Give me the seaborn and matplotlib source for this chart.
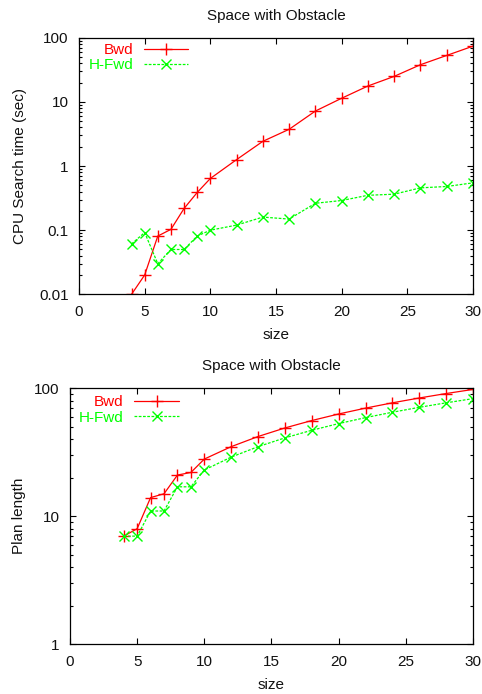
import matplotlib
matplotlib.use("Agg")
import matplotlib.pyplot as plt
import seaborn as sns
import numpy as np
from matplotlib.ticker import LogLocator, NullFormatter, FixedLocator

sizes = [4, 5, 6, 7, 8, 9, 10, 12, 14, 16, 18, 20, 22, 24, 26, 28, 30]

cpu_bwd = [0.01, 0.02, 0.081, 0.103, 0.218, 0.387, 0.64, 1.26, 2.43, 3.74,
           7.2, 11.4, 17.7, 25.0, 38.0, 53.0, 74.0]
cpu_hfwd = [0.061, 0.092, 0.030, 0.050, 0.050, 0.081, 0.10, 0.12, 0.16, 0.149,
            0.263, 0.29, 0.35, 0.364, 0.457, 0.48, 0.547]

plan_bwd = [7, 8, 14, 15, 21, 22, 28, 35, 42, 49, 56, 63, 70, 77, 84, 91, 98]
plan_hfwd = [7, 7, 11, 11, 17, 17, 23, 29, 35, 41, 47, 53, 59, 65, 71, 77, 83]

title = "Space with Obstacle"
xlabel = "size"
ylabel_top = "CPU Search time (sec)"
ylabel_bot = "Plan length"
xticks = [0, 5, 10, 15, 20, 25, 30]
yticks_top = [0.01, 0.1, 1, 10, 100]
yticklabels_top = ["0.01", "0.1", "1", "10", "100"]
yticks_bot = [1, 10, 100]
yticklabels_bot = ["1", "10", "100"]

sns.set_style("ticks")
plt.rcParams["font.family"] = ["Liberation Sans", "DejaVu Sans"]
FS = 11

fig = plt.figure(figsize=(4.82, 6.94), dpi=100)
ax1 = fig.add_axes([0.1639, 0.5759, 0.8174, 0.3697])
ax2 = fig.add_axes([0.1452, 0.0716, 0.8361, 0.3689])

RED = "#ff0000"
GREEN = "#00ff00"


def draw(ax, yb, yh, yticks, yticklabels, ylim, ylabel, ylabel_x, leg_x, leg_y):
    sns.lineplot(x=sizes, y=yb, ax=ax, color=RED, marker="+", markersize=9,
                 markeredgewidth=1.0, markeredgecolor=RED, linewidth=0.9,
                 label="Bwd")
    sns.lineplot(x=sizes, y=yh, ax=ax, color=GREEN, marker="x", markersize=7,
                 markeredgewidth=1.0, markeredgecolor=GREEN, linewidth=0.9,
                 label="H-Fwd", linestyle=(0, (2.2, 1.2)))
    ax.set_yscale("log")
    ax.set_xlim(0, 30)
    ax.set_ylim(*ylim)
    ax.xaxis.set_major_locator(FixedLocator(xticks))
    ax.set_xticklabels([str(t) for t in xticks])
    ax.yaxis.set_major_locator(FixedLocator(yticks))
    ax.set_yticklabels(yticklabels)
    ax.yaxis.set_minor_locator(LogLocator(base=10, subs=np.arange(2, 10)))
    ax.yaxis.set_minor_formatter(NullFormatter())
    ax.tick_params(which="both", direction="in", top=True, right=True,
                   color="black", width=0.8, labelsize=FS, labelcolor="#111111")
    ax.tick_params(which="major", length=4.5)
    ax.tick_params(which="minor", length=2.5)
    ax.tick_params(axis="y", pad=7.5)
    ax.tick_params(axis="x", pad=8)
    for s in ax.spines.values():
        s.set_visible(True)
        s.set_linewidth(0.9)
        s.set_color("black")
    ax.set_title(title, fontsize=FS, pad=13, color="#111111")
    ax.set_xlabel(xlabel, fontsize=FS, color="#111111")
    ax.set_ylabel(ylabel, fontsize=FS, color="#111111")
    ax.xaxis.set_label_coords(0.5, -0.13)
    ax.yaxis.set_label_coords(ylabel_x, 0.5)
    ax.legend(loc="upper right", bbox_to_anchor=(leg_x, leg_y),
              frameon=False, markerfirst=False, labelcolor="linecolor",
              fontsize=FS, handlelength=2.9, handletextpad=0.7,
              labelspacing=0.08, borderaxespad=0, borderpad=0)
    ax.grid(False)


draw(ax1, cpu_bwd, cpu_hfwd, yticks_top, yticklabels_top, (0.01, 100),
     ylabel_top, -0.133, 0.277, 0.979)
draw(ax2, plan_bwd, plan_hfwd, yticks_bot, yticklabels_bot, (1, 100),
     ylabel_bot, -0.11, 0.270, 0.972)

fig.savefig("out.png", dpi=100)
